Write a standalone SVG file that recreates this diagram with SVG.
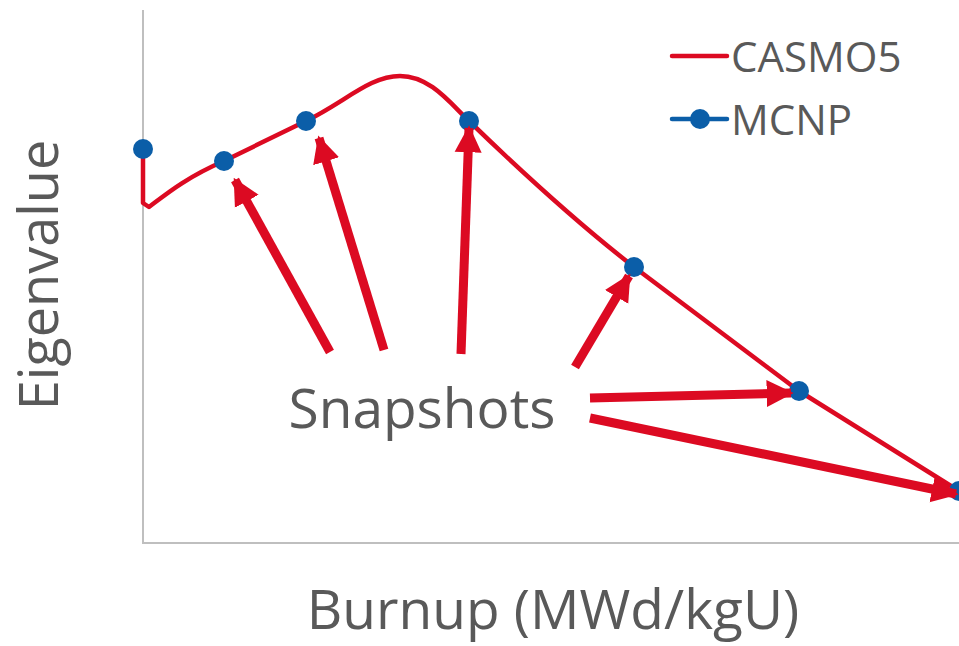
<svg xmlns="http://www.w3.org/2000/svg" width="959" height="646" viewBox="0 0 959 646">
<defs>
<style>
.axis{stroke:#bfbfbf;stroke-width:2;fill:none}
.curve{stroke:#dc0a22;stroke-width:4.5;fill:none;stroke-linejoin:round}
.pt{fill:#0b5ea8}
.arr{stroke:#dc0a22;stroke-width:9;fill:none}
.lbl{font-family:"Open Sans","Liberation Sans",sans-serif;fill:#595959}
</style>
<marker id="ah" viewBox="0 0 10 10" refX="9" refY="5" markerWidth="3" markerHeight="3.2" orient="auto" markerUnits="strokeWidth">
<path d="M0,0 L10,5 L0,10 z" fill="#dc0a22"/>
</marker>
</defs>
<g id="axes">
<line class="axis" x1="143" y1="10" x2="143" y2="543"/>
<line class="axis" x1="142" y1="543" x2="959" y2="543"/>
</g>
<g id="casmo5-curve">
<path class="curve" d="M143,149 L143,203 L149,207 C165,195 185,178 224,161 L306,121 C345,102 370,76 400,76 C430,76 450,103 469,121 C530,180 580,225 634,267 L799,391 L959,491"/>
</g>
<g id="mcnp-points">
<circle class="pt" cx="143" cy="149" r="10"/>
<circle class="pt" cx="224" cy="161" r="10"/>
<circle class="pt" cx="306" cy="121" r="10"/>
<circle class="pt" cx="469" cy="121" r="10"/>
<circle class="pt" cx="634" cy="267" r="10"/>
<circle class="pt" cx="799" cy="391" r="10"/>
<circle class="pt" cx="959" cy="491" r="10"/>
</g>
<g id="connectors">
<line class="arr" x1="330" y1="352" x2="235" y2="180" marker-end="url(#ah)"/>
<line class="arr" x1="384" y1="350" x2="319" y2="138" marker-end="url(#ah)"/>
<line class="arr" x1="461" y1="354" x2="469" y2="128" marker-end="url(#ah)"/>
<line class="arr" x1="575" y1="367" x2="629" y2="276" marker-end="url(#ah)"/>
<line class="arr" x1="590" y1="398" x2="791" y2="393" marker-end="url(#ah)"/>
<line class="arr" x1="590" y1="418" x2="956" y2="494" marker-end="url(#ah)"/>
</g>
<g id="snapshots-label">
<text class="lbl" x="422" y="428" font-size="55" text-anchor="middle">Snapshots</text>
</g>
<g id="legend">
<line x1="672" y1="56" x2="727" y2="56" stroke="#dc0a22" stroke-width="4.5" stroke-linecap="round"/>
<text class="lbl" x="731" y="72" font-size="42">CASMO5</text>
<line x1="672" y1="119" x2="727" y2="119" stroke="#0b5ea8" stroke-width="4.5" stroke-linecap="round"/>
<circle class="pt" cx="700" cy="119" r="10"/>
<text class="lbl" x="731" y="135" font-size="42">MCNP</text>
</g>
<g id="y-axis-title">
<text class="lbl" transform="translate(58,275) rotate(-90)" font-size="54" text-anchor="middle">Eigenvalue</text>
</g>
<g id="x-axis-title">
<text class="lbl" x="553" y="629" font-size="55" text-anchor="middle">Burnup (MWd/kgU)</text>
</g>
</svg>
